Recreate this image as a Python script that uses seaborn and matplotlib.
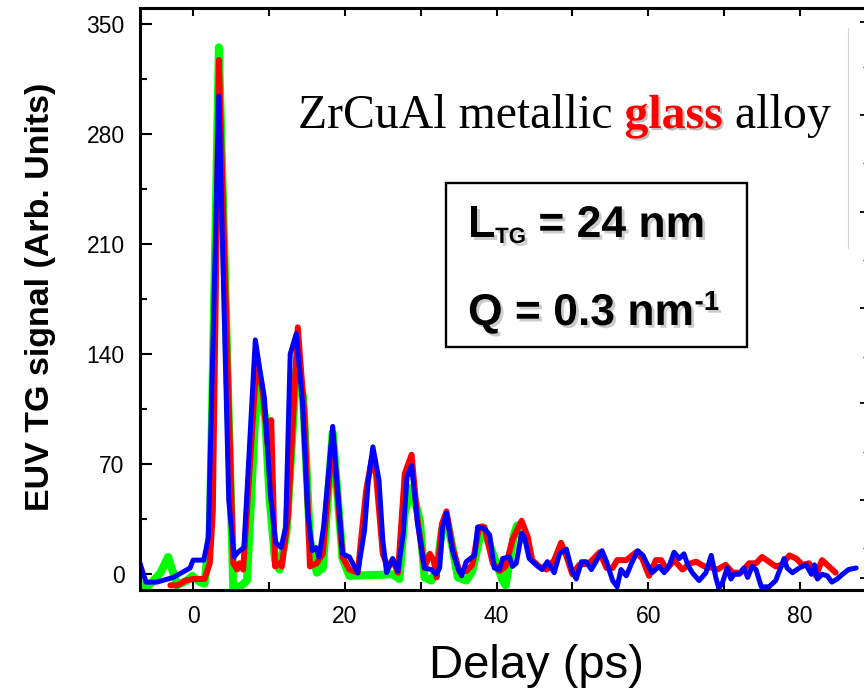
import matplotlib
matplotlib.use("Agg")
import matplotlib.pyplot as plt
import seaborn as sns
import numpy as np
from matplotlib import patheffects as pe
from matplotlib.patches import Rectangle
from matplotlib.lines import Line2D
from matplotlib.ticker import MultipleLocator, FixedLocator

# ---------------- data ----------------
green_delay = [-7.0, -6.0, -5.4, -4.3, -3.3, -2.1, -0.8, -0.1, 0.9, 1.5, 2.2, 3.4, 5.3, 6.4, 7.1,
               8.4, 9.5, 10.1, 10.8, 11.4, 12.3, 13.6, 14.5, 15.4, 16.3, 17.1, 18.4, 19.7, 20.6,
               26.3, 27.2, 27.9, 28.8, 29.9, 30.5, 31.4, 32.1, 32.8, 33.4, 34.2, 34.9, 36.0, 36.8,
               38.1, 39.0, 39.9, 40.8, 41.2, 42.3, 42.7, 43.5]
green_signal = [-6, -8, -5, 1, 11, -7, -4, -1, -5, -6, 26, 335, -10, -7, -4,
                121, 100, 47, 9, 3, 26, 130, 113, 22, 1, 4, 90, 10, -1,
                0, -3, 39, 55, 34, -2, -4, 2, 28, 36, 17, -2, -4, 2,
                30, 20, 8, -4, -7, 25, 31, 22]

red_delay = [-3.0, -2.0, -1.0, 0.0, 1.5, 2.2, 2.6, 3.4, 5.3, 5.8, 6.1, 6.6, 8.4, 9.2, 9.9, 10.3,
             10.8, 11.4, 11.7, 12.5, 13.8, 14.7, 15.4, 16.3, 17.1, 18.4, 19.7, 20.6, 21.7, 22.8,
             23.5, 24.1, 25.0, 25.7, 26.3, 27.0, 27.9, 28.8, 29.6, 30.5, 31.2, 31.7, 32.1, 32.8,
             33.4, 34.2, 35.1, 36.0, 36.8, 37.7, 38.4, 39.5, 40.4, 41.2, 42.1, 43.3, 44.1, 44.7,
             45.6, 46.6, 47.6, 48.5, 49.1, 50.0, 50.9, 52.2, 53.6, 54.5, 55.3, 55.9, 57.1, 58.4,
             59.2, 60.1, 61.0, 61.7, 62.4, 63.4, 64.5, 65.6, 66.3, 67.4, 68.4, 69.1, 70.2, 71.1,
             72.2, 73.3, 74.2, 75.0, 75.9, 76.8, 77.6, 78.6, 79.5, 80.3, 81.2, 82.1, 82.9, 83.8,
             84.7]
red_signal = [-7, -7, -4, -3, -3, 7, 40, 327, 7, 3, 7, 3, 138, 115, 79, 98,
              5, 7, 5, 36, 157, 100, 5, 7, 13, 88, 11, 3, 1, 53,
              72, 64, 13, 4, 9, 1, 64, 76, 34, 4, 13, 9, -2, 32,
              40, 17, 2, 2, 6, 30, 30, 7, 2, 5, 22, 34, 24, 9,
              5, 3, 9, 20, 13, 0, 6, 7, 14, 4, 4, 9, 9, 14,
              10, -1, 9, 9, 3, 9, 3, 7, 8, 5, 4, 3, 6, 1,
              1, 7, 7, 11, 8, 5, 6, 12, 10, 6, 7, -1, 9, 5,
              1]

blue_delay = [-7.0, -6.2, -4.8, -2.6, -0.4, 0.0, 1.4, 2.0, 3.4, 4.7, 5.4, 5.9, 6.7, 8.2, 8.8,
              9.4, 10.2, 10.9, 11.6, 12.2, 12.8, 13.6, 14.4, 15.1, 15.7, 16.2, 16.6, 17.2, 18.4,
              19.7, 20.6, 21.7, 22.6, 23.1, 23.7, 24.5, 25.0, 25.5, 26.3, 27.0, 27.7, 28.2, 28.8,
              29.6, 30.5, 31.4, 32.0, 32.5, 32.9, 33.4, 34.2, 34.9, 35.4, 36.0, 37.1, 37.5, 38.4,
              39.1, 39.7, 40.4, 40.8, 41.7, 42.1, 42.6, 43.3, 43.7, 44.3, 45.2, 46.0, 46.7, 47.6,
              48.3, 49.2, 49.9, 50.5, 51.2, 51.8, 52.5, 53.1, 53.9, 54.5, 55.3, 55.9, 56.4, 57.1,
              57.8, 58.6, 59.3, 59.7, 60.5, 61.4, 62.1, 62.8, 63.4, 64.1, 64.7, 65.2, 65.8, 66.7,
              67.6, 68.3, 68.9, 69.3, 69.8, 70.4, 70.9, 71.3, 72.0, 72.6, 73.1, 73.7, 74.2, 74.9,
              75.9, 76.8, 77.5, 77.9, 78.3, 79.0, 79.9, 80.8, 81.5, 81.9, 82.3, 82.9, 83.6, 84.2,
              84.9, 85.6, 86.4, 87.4]
blue_signal = [7, -5, -5, -2, 4, 9, 9, 23, 304, 47, 11, 14, 17, 149, 130,
               112, 50, 20, 17, 30, 140, 153, 110, 40, 15, 17, 11, 30, 94,
               13, 11, 1, 28, 60, 81, 60, 22, 1, 10, 2, 26, 62, 69,
               32, 4, 3, 0, 4, 30, 39, 15, 4, -1, 8, 12, 30, 29,
               25, 4, 3, 10, 11, 5, 7, 26, 23, 10, 6, 3, 8, 1,
               13, 16, 3, -3, 8, 8, 3, 8, 15, 8, -4, -8, 3, -1,
               7, 15, 12, 8, 1, 5, 1, 6, 14, 10, 13, 6, 1, -4,
               1, 12, -2, -9, -5, 4, -3, 0, 0, 4, -2, 5, 3, -8,
               -8, -4, 5, 10, 4, 1, 4, 6, 0, 6, -3, 0, -1, -5,
               -3, 0, 3, 4]

x_major_ticks = [0, 20, 40, 60, 80]
y_major_ticks = [0, 70, 140, 210, 280, 350]

# ---------------- figure ----------------
sns.set_style("ticks")
plt.rcParams["font.family"] = ["Liberation Sans", "DejaVu Sans"]
plt.rcParams.update({"text.color": "black", "axes.labelcolor": "black",
                     "xtick.color": "black", "ytick.color": "black",
                     "axes.edgecolor": "black"})

W, H = 864, 691
fig = plt.figure(figsize=(W / 100, H / 100), dpi=100)


def fx(px):
    return px / W


def fy(py):
    return 1 - py / H


ax = fig.add_axes([fx(140), fy(590), (866 - 140) / W, (590 - 8) / H])

for d, s, c, lw in [(green_delay, green_signal, "#00ff00", 5.8),
                    (red_delay, red_signal, "#ff0000", 4.3),
                    (blue_delay, blue_signal, "#0000ff", 3.6)]:
    sns.lineplot(x=d, y=s, ax=ax, color=c, linewidth=lw, sort=False, estimator=None,
                 solid_joinstyle="round", solid_capstyle="round")

ax.set_xlim(-7, 88.7)
ax.set_ylim(-10, 360)
ax.set_xticks(x_major_ticks)
ax.xaxis.set_minor_locator(MultipleLocator(10))
ax.set_yticks(y_major_ticks)
ax.yaxis.set_minor_locator(MultipleLocator(35))

ax.tick_params(axis="x", which="both", direction="in", top=True, bottom=True,
               length=6, width=1.5, color="black")
ax.tick_params(axis="x", which="major", labelsize=16.5, pad=11, labelcolor="black")
ax.tick_params(axis="y", which="major", direction="in", left=True, right=False,
               length=8.5, width=1.5, labelsize=16.5, pad=11, labelcolor="black",
               color="black")
ax.tick_params(axis="y", which="minor", direction="in", left=True, right=False,
               length=5, width=1.5, color="black")
for side in ["left", "bottom", "top"]:
    ax.spines[side].set_linewidth(2.2)
    ax.spines[side].set_color("black")
ax.spines["right"].set_visible(False)

ax.set_xlabel("Delay (ps)", fontsize=34, color="black")
ax.xaxis.label.set_va("baseline")
ax.xaxis.set_label_coords((536.5 - 140) / 726, (590 - 678) / 582)
ax.set_ylabel("EUV TG signal (Arb. Units)", fontsize=24.5, fontweight="bold", color="black")
ax.yaxis.label.set_va("center")
ax.yaxis.set_label_coords((41 - 140) / 726, (590 - 296.5) / 582)

# right-hand ticks of the neighbouring panel (partially visible)
ax2 = ax.twinx()
ax2.set_ylim(0, 1)
for sp in ax2.spines.values():
    sp.set_visible(False)
maj_px = [21.7, 115, 211.7, 308.3, 403.3, 500, 578]
min_px = [66.7, 163, 260, 357, 452, 548]
ax2.yaxis.set_major_locator(FixedLocator([(590 - p) / 582 for p in maj_px]))
ax2.yaxis.set_minor_locator(FixedLocator([(590 - p) / 582 for p in min_px]))
ax2.tick_params(axis="y", which="major", direction="in", length=4.5, width=1.3,
                labelright=False, right=True, color="black")
ax2.tick_params(axis="y", which="minor", direction="in", length=2.5, width=1.0,
                labelright=False, right=True, color="black")

fig.add_artist(Line2D([fx(848), fx(848)], [fy(28), fy(248)], transform=fig.transFigure,
                      color="#d6d6d6", lw=0.8))

# ---------------- annotations ----------------
renderer = fig.canvas.get_renderer()
shadow = [pe.withSimplePatchShadow(offset=(1.5, -1.5), shadow_rgbFace="black", alpha=0.25)]

base_y = fy(128)
t1 = fig.text(fx(298), base_y, "ZrCuAl metallic", family="Liberation Serif",
              fontsize=34.4, va="baseline", ha="left", color="black")
bb = t1.get_window_extent(renderer)
t2 = fig.text(bb.x1 / W, base_y, " glass", family="Liberation Serif", fontweight="bold",
              fontsize=34.4, va="baseline", ha="left", color="#ff0000", path_effects=shadow)
bb = t2.get_window_extent(renderer)
fig.text(bb.x1 / W, base_y, " alloy", family="Liberation Serif",
         fontsize=34.4, va="baseline", ha="left", color="black")

fig.add_artist(Rectangle((fx(446), fy(347)), (747 - 446) / W, (347 - 183) / H,
                         transform=fig.transFigure, fill=False, lw=1.7, ec="black"))

box_shadow = [pe.withSimplePatchShadow(offset=(2, -2), shadow_rgbFace="black", alpha=0.2)]
l1 = fig.text(fx(468), fy(237), "L", fontsize=32, fontweight="bold", va="baseline",
              ha="left", color="black", path_effects=box_shadow)
bb = l1.get_window_extent(renderer)
l2 = fig.text(bb.x1 / W, fy(243), "TG", fontsize=16, fontweight="bold", va="baseline",
              ha="left", color="black", path_effects=box_shadow)
bb = l2.get_window_extent(renderer)
fig.text(bb.x1 / W, fy(237), " = 24 nm", fontsize=32, fontweight="bold", va="baseline",
         ha="left", color="black", path_effects=box_shadow)

q1 = fig.text(fx(468), fy(325), "Q = 0.3 nm", fontsize=32, fontweight="bold",
              va="baseline", ha="left", color="black", path_effects=box_shadow)
bb = q1.get_window_extent(renderer)
fig.text(bb.x1 / W, fy(310), "-1", fontsize=20, fontweight="bold", va="baseline",
         ha="left", color="black", path_effects=box_shadow)

fig.savefig("out.png", dpi=100)
